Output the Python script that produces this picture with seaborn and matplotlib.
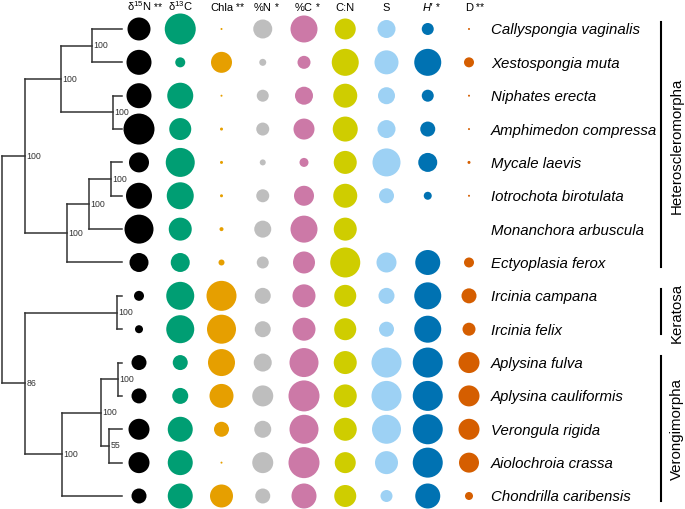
# sponge traits bubble chart with tree

import numpy as np
import pandas as pd
import seaborn as sns
import matplotlib.pyplot as plt

nan = np.nan

# species (top to bottom)
species = ["Callyspongia vaginalis", "Xestospongia muta", "Niphates erecta",
           "Amphimedon compressa", "Mycale laevis", "Iotrochota birotulata",
           "Monanchora arbuscula", "Ectyoplasia ferox", "Ircinia campana",
           "Ircinia felix", "Aplysina fulva", "Aplysina cauliformis",
           "Verongula rigida", "Aiolochroia crassa", "Chondrilla caribensis"]

# relative bubble size per variable
d15N = [23, 25, 25, 31, 20, 26, 29, 19, 10, 8, 15, 15, 21, 21, 15]
d13C = [31, 10, 26, 22, 29, 27, 23, 19, 28, 28, 15, 16, 25, 25, 25]
chla = [2, 21, 2, 3, 3, 3, 4, 6, 30, 29, 27, 24, 15, 2, 23]
pctN = [19, 7, 12, 13, 6, 13, 17, 12, 16, 16, 18, 21, 17, 21, 15]
pctC = [27, 13, 18, 21, 9, 20, 27, 22, 23, 23, 29, 31, 29, 31, 25]
cn = [21, 27, 24, 25, 23, 24, 23, 30, 22, 22, 23, 23, 23, 21, 22]
rich = [18, 24, 17, 18, 28, 15, nan, 20, 16, 15, 30, 30, 29, 23, 12]
shannon = [12, 27, 12, 15, 19, 8, nan, 25, 27, 27, 30, 30, 30, 30, 25]
dom = [2, 10, 2, 2, 3, 2, nan, 10, 15, 13, 21, 21, 21, 20, 8]

variables = ["d15N", "d13C", "Chla", "%N", "%C", "C:N", "S", "H", "D"]
headers = ["δ$^{15}$N", "δ$^{13}$C", "Chla", "%N", "%C", "C:N", "S", "H′", "D"]
stars = [" **", "", " **", " *", " *", "", "", " *", " **"]
colors = ["black", "#009E73", "#E69F00", "#BEBEBE", "#CC79A7",
          "#CFCD00", "#9DD1F4", "#0072B2", "#D55E00"]

# clades: name, first row, last row
clades = [("Heteroscleromorpha", 0, 7), ("Keratosa", 8, 9), ("Verongimorpha", 10, 14)]

# tree: (node depth, support, children)
tree = (2, None, [
    (25, "100", [
        (61, "100", [
            (92, "100", ["Callyspongia vaginalis", "Xestospongia muta"]),
            (113, "100", ["Niphates erecta", "Amphimedon compressa"])]),
        (67, "100", [
            (89, "100", [
                (111, "100", ["Mycale laevis", "Iotrochota birotulata"]),
                "Monanchora arbuscula"]),
            "Ectyoplasia ferox"])]),
    (25, "86", [
        (117, "100", ["Ircinia campana", "Ircinia felix"]),
        (62, "100", [
            (101, "100", [
                (118, "100", ["Aplysina fulva", "Aplysina cauliformis"]),
                (109, "55", ["Verongula rigida", "Aiolochroia crassa"])]),
            "Chondrilla caribensis"])])])

# layout
leaf_x = 122
col_x0, col_dx = 139, 41.25
name_x = 491
bar_x, clade_x = 661, 677

plt.rcParams["font.family"] = ["Liberation Sans", "DejaVu Sans"]
plt.rcParams["mathtext.fontset"] = "custom"
plt.rcParams["mathtext.rm"] = "Liberation Sans"
plt.rcParams["mathtext.it"] = "Liberation Sans:italic"

# long format table
values = [d15N, d13C, chla, pctN, pctC, cn, rich, shannon, dom]
df = pd.DataFrame({
    "species": species * len(variables),
    "row": list(range(len(species))) * len(variables),
    "variable": np.repeat(variables, len(species)),
    "col": np.repeat(np.arange(len(variables)), len(species)),
    "value": np.concatenate(values),
}).dropna()
df["x"] = col_x0 + df["col"] * col_dx
df["area"] = df["value"] ** 2

fig = plt.figure(figsize=(6.85, 5.09), dpi=100)
ax = fig.add_axes([0, 0, 1, 1])
ax.set_xlim(0, 685)
ax.set_ylim(14.39, -0.869)
ax.axis("off")

# bubbles
sns.scatterplot(data=df, x="x", y="row", hue="variable",
                palette=dict(zip(variables, colors)),
                size="area", sizes=(0, (31 * 0.72) ** 2), size_norm=(0, 31 ** 2),
                linewidth=0, legend=False, ax=ax)

# headers
for i, (h, s) in enumerate(zip(headers, stars)):
    style = "italic" if h == "H′" else "normal"
    t = ax.text(col_x0 + i * col_dx, -0.55, h, fontsize=8, ha="center",
                va="baseline", fontstyle=style)
    if s:
        ax.annotate(s, xy=(1, 0), xycoords=t, fontsize=7.5, va="bottom", ha="left")

# species names
for i, sp in enumerate(species):
    ax.text(name_x, i, sp, fontsize=10.8, fontstyle="italic",
            va="center_baseline", ha="left")

# tree
row_of = {sp: i for i, sp in enumerate(species)}
line_kw = dict(color="#333333", lw=1.1, solid_capstyle="projecting")


def draw_node(node):
    if isinstance(node, str):
        return leaf_x, row_of[node]
    x, support, children = node
    pts = [draw_node(c) for c in children]
    ys = [p[1] for p in pts]
    ax.plot([x, x], [min(ys), max(ys)], **line_kw)
    for cx, cy in pts:
        ax.plot([x, cx], [cy, cy], **line_kw)
    y = (min(ys) + max(ys)) / 2
    if support:
        ax.text(x + 1.2, y, support, fontsize=6.3, va="center", ha="left",
                color="#333333")
    return x, y


draw_node(tree)

# clade bars
for name, a, b in clades:
    ax.plot([bar_x, bar_x], [a - 0.2, b + 0.15], color="black", lw=1.5)
    ax.text(clade_x, (a + b) / 2, name, fontsize=10.8, rotation=90,
            ha="center", va="center")

plt.savefig("out.png", dpi=100)
